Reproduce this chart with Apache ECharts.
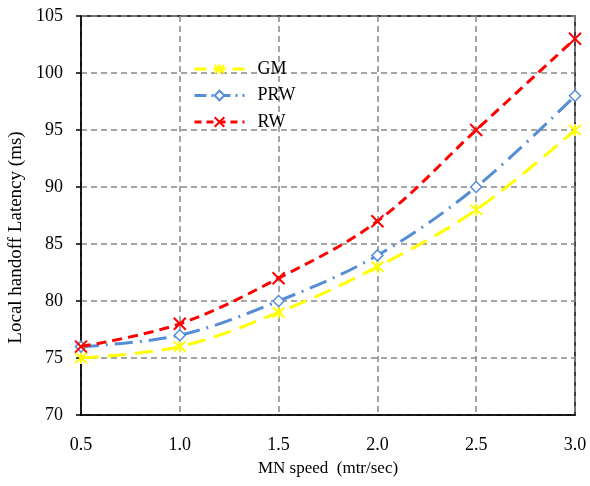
<!DOCTYPE html>
<html>
<head>
<meta charset="utf-8">
<script src="https://cdn.jsdelivr.net/npm/echarts@6/dist/echarts.min.js"></script>
<style>
    html, body { margin: 0; padding: 0; background: #fff; }
    #chart { width: 590px; height: 486px; }
</style>
</head>
<body>
<div id="chart"></div>
<script>
var speeds = [0.5, 1.0, 1.5, 2.0, 2.5, 3.0];
var gmData = [75, 76, 79, 83, 88, 95];
var prwData = [76, 77, 80, 84, 90, 98];
var rwData = [76, 78, 82, 87, 95, 103];
var seriesNames = ['GM', 'PRW', 'RW'];

var font = 'Liberation Serif';
var crossPath = 'path://M0,0L10,10M10,0L0,10';
var starPath = 'path://M0,0L10,10M10,0L0,10M5,-1L5,11';
var dashes = [[18, 9], [18, 7, 2, 7], [10, 6]];
var legendDashes = [[12, 7], [12, 5, 2, 5], [7, 5]];

var pairs = function (ys) {
    return speeds.map(function (x, i) { return [x, ys[i]]; });
};

// one legend per series so each keeps its own dash pattern
var legends = seriesNames.map(function (name, i) {
    return {
        orient: 'vertical',
        left: 193,
        top: 60 + i * 26.5,
        padding: 0,
        itemWidth: 50,
        itemHeight: 12,
        lineStyle: { type: legendDashes[i], width: 3 },
        textStyle: { fontFamily: font, fontSize: 18, color: '#000', padding: [0, 0, 0, 8] },
        data: [name]
    };
});

var myChart = echarts.init(document.getElementById('chart'));
var option = {
    animation: false,
    grid: {
        left: 81, right: 15, top: 16, bottom: 71,
        outerBoundsMode: 'none',
        show: true, borderColor: '#000', borderWidth: 1.5
    },
    legend: legends,
    xAxis: {
        type: 'value',
        min: 0.5, max: 3.0, interval: 0.5,
        name: 'MN speed  (mtr/sec)',
        nameLocation: 'middle',
        nameGap: 45,
        nameTextStyle: { fontFamily: font, fontSize: 17, color: '#000' },
        axisLine: { lineStyle: { color: '#000', width: 1.5 } },
        axisTick: { show: false },
        axisLabel: {
            fontFamily: font, fontSize: 18, color: '#000', margin: 21,
            formatter: function (v) { return v.toFixed(1); }
        },
        splitLine: { lineStyle: { color: '#888', width: 1.5, type: [6, 4] } }
    },
    yAxis: {
        type: 'value',
        min: 70, max: 105, interval: 5,
        name: 'Local handoff Latency (ms)',
        nameLocation: 'middle',
        nameGap: 50,
        nameTextStyle: { fontFamily: font, fontSize: 19, color: '#000', padding: [0, 44, 0, 0] },
        axisLine: { show: true, lineStyle: { color: '#000', width: 1.5 } },
        axisTick: { show: true, length: 5, lineStyle: { color: '#000', width: 1.5 } },
        axisLabel: { fontFamily: font, fontSize: 18, color: '#000', margin: 18 },
        splitLine: { lineStyle: { color: '#888', width: 1.5, type: [6, 4] } }
    },
    series: [
        {
            name: 'GM',
            type: 'line',
            smooth: 0.35,
            data: pairs(gmData),
            symbol: starPath,
            symbolSize: 12,
            color: '#FFFF00',
            itemStyle: { color: 'none', borderColor: '#FFFF00', borderWidth: 2 },
            lineStyle: { color: '#FFFF00', width: 3, type: dashes[0] },
            z: 3
        },
        {
            name: 'PRW',
            type: 'line',
            smooth: 0.35,
            data: pairs(prwData),
            symbol: 'diamond',
            symbolSize: 11,
            color: '#558ED5',
            itemStyle: { color: '#fff', borderColor: '#558ED5', borderWidth: 1.5 },
            lineStyle: { color: '#558ED5', width: 3, type: dashes[1] },
            z: 4
        },
        {
            name: 'RW',
            type: 'line',
            smooth: 0.35,
            data: pairs(rwData),
            symbol: crossPath,
            symbolSize: 12,
            color: '#FF0000',
            itemStyle: { color: 'none', borderColor: '#FF0000', borderWidth: 2 },
            lineStyle: { color: '#FF0000', width: 3, type: dashes[2] },
            z: 5
        }
    ]
};
myChart.setOption(option);
window.onresize = myChart.resize;
</script>
</body>
</html>
